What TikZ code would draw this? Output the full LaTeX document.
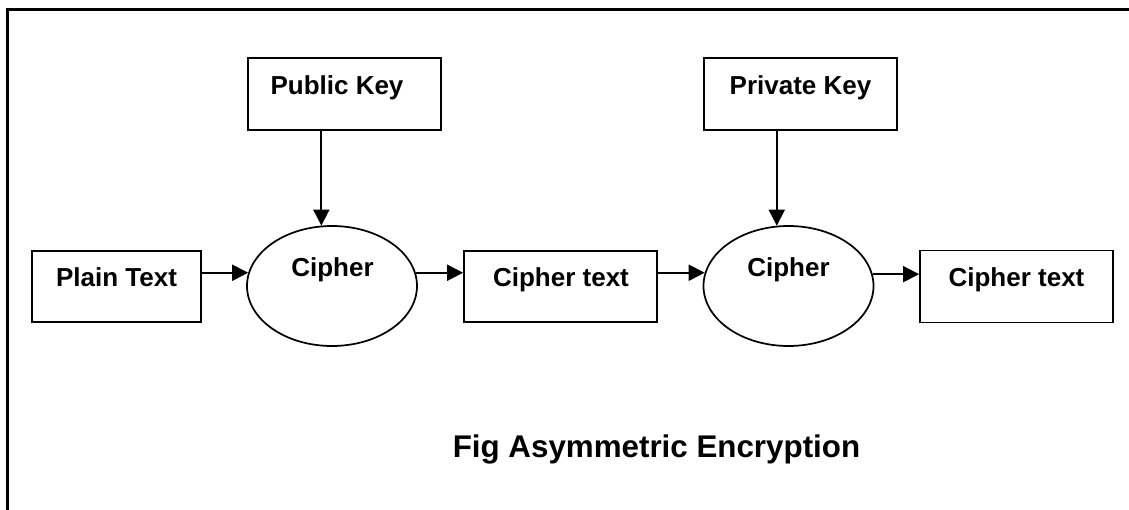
\documentclass[tikz,border=0pt]{standalone}
\usepackage{fontspec}
\setmainfont{Liberation Sans}
\usetikzlibrary{arrows.meta,shapes.geometric}

\tikzset{
  keybox/.style={draw, line width=1.3pt, rectangle, inner sep=0pt},
  cipherell/.style={draw, line width=1.3pt, ellipse, inner sep=0pt,
    minimum width=127.5pt, minimum height=90pt},
  lbl/.style={anchor=base, inner sep=0pt, font=\bfseries\fontsize{19.5}{22}\selectfont},
  caption/.style={anchor=base, inner sep=0pt, font=\bfseries\fontsize{23.5}{27}\selectfont},
  arr/.style={line width=1.4pt, -{Triangle[length=12pt,width=12pt]}},
  frame/.style={line width=2.2pt, line cap=rect}
}

\begin{document}
\begin{tikzpicture}[x=0.75pt, y=-0.75pt]
  \useasboundingbox (0,0) rectangle (1129,510);

  % outer frame: top and left edges
  \draw[frame] (7.5,512) -- (7.5,9.5) -- (1131,9.5);

  % key boxes
  \node[keybox, minimum width=144.75pt, minimum height=54pt] (pk)  at (344.5,94) {};
  \node[keybox, minimum width=144.75pt, minimum height=54pt] (prk) at (800.5,94) {};

  % data boxes
  \node[keybox, minimum width=126.75pt, minimum height=53.25pt] (pt)  at (116.5,286.5) {};
  \node[keybox, minimum width=144.75pt, minimum height=53.25pt] (ct1) at (560.5,286.5) {};
  \node[keybox, minimum width=144.75pt, minimum height=54pt]    (ct2) at (1016.5,286.5) {};

  % cipher stages
  \node[cipherell] (c1) at (332,286) {};
  \node[cipherell] (c2) at (788.5,286) {};

  % labels
  \node[lbl] (pkt)  at (337,95)     {Public Key};
  \node[lbl] (prkt) at (800.5,95)   {Private Key};
  \node[lbl] (ptt)  at (116.5,286.5) {Plain Text};
  \node[lbl] (ct1t) at (561,286.5)  {Cipher text};
  \node[lbl] (ct2t) at (1016.5,286.5) {Cipher text};
  \node[lbl] (c1t)  at (332.5,276)  {Cipher};
  \node[lbl] (c2t)  at (788.5,276.5) {Cipher};

  % keys feed the ciphers
  \draw[arr] (c1.100 |- pk.south)  -- (c1.100);
  \draw[arr] (c2.101 |- prk.south) -- (c2.101);

  % data flow
  \draw[arr] (c1.171 -| pt.east) -- (c1.171);
  \draw[arr] (c1.9) -- (c1.9 -| ct1.west);
  \draw[arr] (c2.171 -| ct1.east) -- (c2.171);
  \draw[arr] (c2.8) -- (c2.8 -| ct2.west);

  % caption
  \node[caption] (cap) at (656.5,457) {Fig Asymmetric Encryption};
\end{tikzpicture}
\end{document}
